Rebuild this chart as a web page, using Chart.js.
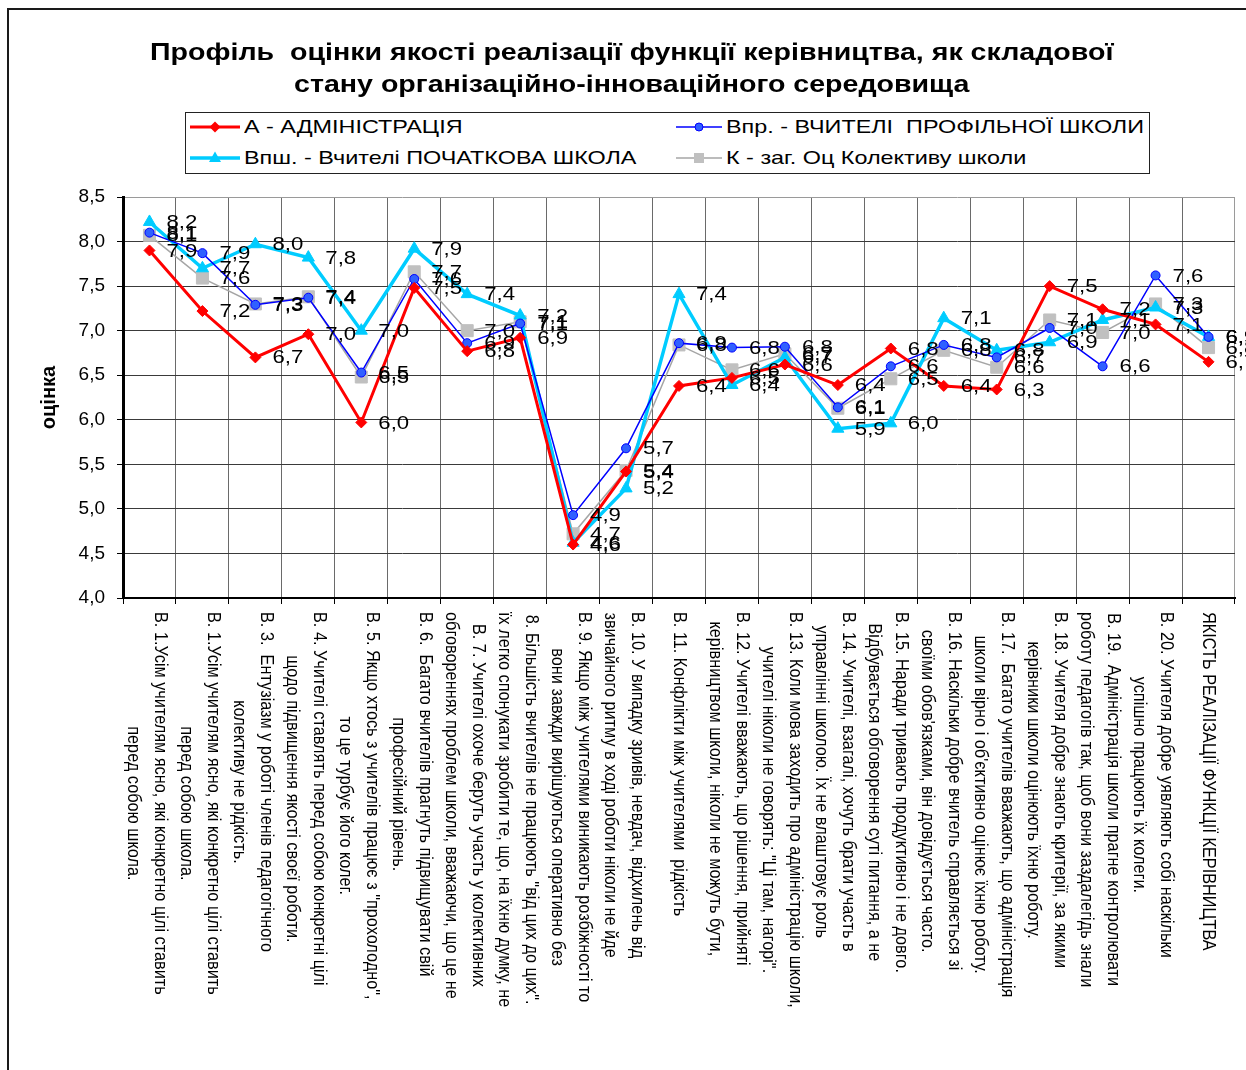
<!DOCTYPE html>
<html lang="uk">
<head>
<meta charset="utf-8">
<title>Профіль оцінки якості реалізації функції керівництва</title>
<script src="https://cdn.jsdelivr.net/npm/chart.js@4.4.1/dist/chart.umd.min.js"></script>
<style>
  html, body { margin: 0; padding: 0; background: #fff; }
  body { width: 1246px; height: 1070px; overflow: hidden; position: relative;
         font-family: "Liberation Sans", Arial, sans-serif; }
  .frame { position: absolute; left: 7px; top: 8px; width: 1300px; height: 1100px;
           border: 2px solid #1a1a1a; box-sizing: border-box; }
  #chart { position: absolute; left: 0; top: 0; }
  .title { position: absolute; left: 0; top: 36px; width: 1264px; text-align: center;
           font-weight: bold; font-size: 24px; line-height: 32px; color: #000; }
  .title span { display: inline-block; transform: scaleX(1.19); transform-origin: center; white-space: pre; }
  .legend { position: absolute; left: 185px; top: 112px; width: 965px; height: 62px;
            border: 1px solid #222; box-sizing: border-box; background: #fff; }
  .legend-item { position: absolute; display: flex; align-items: center; height: 20px;
                 font-size: 19px; color: #000; white-space: nowrap; }
  .legend-item svg { margin-right: 4px; flex: none; }
  .legend-item span { display: inline-block; transform: scaleX(1.23); transform-origin: left center; white-space: pre; }
</style>
</head>
<body>
<div class="frame"></div>
<canvas id="chart" width="1246" height="1070"></canvas>
<div class="title" id="title"></div>
<div class="legend" id="legend"></div>

<script>
// --- data -----------------------------------------------------------------
const titleLines = [
  'Профіль  оцінки якості реалізації функції керівництва, як складової',
  'стану організаційно-інноваційного середовища'
];

const categories = [
  ['В. 1.Усім учителям ясно, які конкретно цілі ставить', 'перед собою школа.'],
  ['В. 1.Усім учителям ясно, які конкретно цілі ставить', 'перед собою школа.'],
  ['В. 3.  Ентузіазм у роботі членів педагогічного', 'колективу не рідкість.'],
  ['В. 4. Учителі ставлять перед собою конкретні цілі', 'щодо підвищення якості своєї роботи.'],
  ['В. 5. Якщо хтось з учителів працює з "прохолодно",', 'то це турбує його колег.'],
  ['В. 6.  Багато вчителів прагнуть підвищувати свій', 'професійний рівень.'],
  ['В. 7. Учителі охоче беруть участь у колективних', 'обговореннях проблем школи, вважаючи, що це не'],
  ['8. Більшість вчителів не працюють "від цих до цих".', 'їх легко спонукати зробити те, що, на їхню думку, не'],
  ['В. 9. Якщо між учителями виникають розбіжності то', 'вони завжди вирішуються оперативно без'],
  ['В. 10. У випадку зривів, невдач, відхилень від', 'звичайного ритму в ході роботи ніколи не йде'],
  ['В. 11. Конфлікти між учителями  рідкість'],
  ['В. 12. Учителі вважають, що рішення, прийняті', 'керівництвом школи, ніколи не можуть бути,'],
  ['В. 13. Коли мова заходить про адміністрацію школи,', 'учителі ніколи не говорять: "Ці там, нагорі".'],
  ['В. 14. Учителі, взагалі, хочуть брати участь в', 'управлінні школою. Їх не влаштовує роль'],
  ['В. 15. Наради тривають продуктивно і не довго.', 'Відбувається обговорення суті питання, а не'],
  ['В. 16. Наскільки добре вчитель справляється зі', 'своїми обов\'язками, він довідується часто.'],
  ['В. 17.  Багато учителів вважають, що адміністрація', 'школи вірно і об\'єктивно оцінює їхню роботу.'],
  ['В. 18. Учителя добре знають критерії, за якими', 'керівники школи оцінюють їхню роботу.'],
  ['В. 19.  Адміністрація школи прагне контролювати', 'роботу педагогів так, щоб вони заздалегідь знали'],
  ['В. 20. Учителя добре уявляють собі наскільки', 'успішно працюють їх колеги.'],
  ['ЯКІСТЬ РЕАЛІЗАЦІЇ ФУНКЦІЇ КЕРІВНИЦТВА']
];

const seriesNames = [
  'А - АДМІНІСТРАЦІЯ',
  'Впр. - ВЧИТЕЛІ  ПРОФІЛЬНОЇ ШКОЛИ',
  'Впш. - Вчителі ПОЧАТКОВА ШКОЛА',
  'К - заг. Оц Колективу школи'
];

const valuesA    = [7.9, 7.22, 6.7, 6.96, 5.97, 7.48, 6.77, 6.92, 4.6, 5.42, 6.38,
                    6.47, 6.62, 6.39, 6.8, 6.38, 6.34, 7.5, 7.24, 7.07, 6.65];
const valuesVpr  = [8.1, 7.87, 7.29, 7.37, 6.53, 7.58, 6.86, 7.08, 4.93, 5.68, 6.86,
                    6.81, 6.82, 6.14, 6.6, 6.84, 6.7, 7.03, 6.6, 7.62, 6.93];
const valuesVpsh = [8.22, 7.7, 7.97, 7.82, 7.0, 7.92, 7.41, 7.17, 4.62, 5.23, 7.41,
                    6.39, 6.7, 5.9, 5.96, 7.14, 6.78, 6.87, 7.12, 7.26, 6.93];
const valuesK    = [8.07, 7.59, 7.3, 7.38, 6.48, 7.66, 7.0, 7.1, 4.72, 5.43, 6.84,
                    6.56, 6.74, 6.13, 6.46, 6.78, 6.59, 7.12, 6.98, 7.3, 6.81];

const yMin = 4, yMax = 8.5, yStep = 0.5;
const yTitle = 'оцінка';

// --- styles ---------------------------------------------------------------
const FONT = '"Liberation Sans", Arial, sans-serif';
const seriesStyle = [
  { color: '#ff0000', fill: '#ff0000', width: 3,   shape: 'rectRot',  r: 5.5, icon: 50 },
  { color: '#0000ff', fill: '#3060ff', width: 1.5, shape: 'circle',   r: 4.5, icon: 46 },
  { color: '#00ccff', fill: '#00ccff', width: 3.5, shape: 'triangle', r: 7,   icon: 50 },
  { color: '#a6a6a6', fill: '#c0c0c0', width: 1.5, shape: 'rect',     r: 8.5, icon: 46 }
];
const seriesValues = [valuesA, valuesVpr, valuesVpsh, valuesK];

const fmt = v => Number(v).toFixed(1).replace('.', ',');

// числа біля точок (трохи розтягнуті по горизонталі, як в оригіналі)
const dataLabels = {
  id: 'dataLabels',
  afterDatasetsDraw(chart) {
    const { ctx } = chart;
    ctx.save();
    ctx.font = '18.5px ' + FONT;
    ctx.fillStyle = '#000';
    ctx.textAlign = 'left';
    ctx.textBaseline = 'middle';
    chart.data.datasets.forEach((ds, i) => {
      chart.getDatasetMeta(i).data.forEach((pt, j) => {
        ctx.save();
        ctx.translate(pt.x + 17, pt.y + 1);
        ctx.scale(1.2, 1);
        ctx.fillText(fmt(ds.data[j]), 0, 0);
        ctx.restore();
      });
    });
    ctx.restore();
  }
};

// підписи категорій, повернуті за годинниковою стрілкою
const xLabels = {
  id: 'xLabels',
  afterDraw(chart) {
    const { ctx } = chart;
    const x = chart.scales.x;
    ctx.save();
    ctx.font = '16.3px ' + FONT;
    ctx.fillStyle = '#000';
    ctx.textAlign = 'center';
    ctx.textBaseline = 'middle';
    categories.forEach((lines, i) => {
      const cx = x.getPixelForTick(i);
      const block = Math.max(...lines.map(l => ctx.measureText(l).width));
      const n = lines.length;
      lines.forEach((line, k) => {
        const px = cx + ((n - 1) / 2 - k) * 27 - (n > 1 ? 3 : 0);
        ctx.save();
        ctx.translate(px, x.top + 14);
        ctx.rotate(Math.PI / 2);
        ctx.scale(1, 1.12);
        ctx.fillText(line, block / 2, 0);
        ctx.restore();
      });
    });
    ctx.restore();
  }
};

new Chart(document.getElementById('chart'), {
  type: 'line',
  data: {
    labels: categories,
    datasets: seriesValues.map((vals, i) => ({
      label: seriesNames[i],
      data: vals,
      borderColor: seriesStyle[i].color,
      backgroundColor: seriesStyle[i].fill,
      borderWidth: seriesStyle[i].width,
      pointStyle: seriesStyle[i].shape,
      pointRadius: seriesStyle[i].r,
      pointBackgroundColor: seriesStyle[i].fill,
      pointBorderColor: i === 1 ? '#0000ff' : seriesStyle[i].fill,
      pointBorderWidth: 1,
      tension: 0,
      fill: false
    }))
  },
  options: {
    responsive: false,
    animation: false,
    events: [],
    layout: { padding: { left: 30, right: 11, top: 197, bottom: 0 } },
    plugins: {
      legend: { display: false },
      tooltip: { enabled: false },
      title: { display: false }
    },
    scales: {
      x: {
        offset: true,
        grid: {
          offset: true,
          color: c => c.type === 'scale' ? '#9a9a9a' : '#6a6a6a',
          lineWidth: 1,
          tickLength: 6,
          tickColor: '#000'
        },
        border: { color: '#000', width: 2 },
        ticks: { display: false },
        afterFit: s => { s.height = 472; }
      },
      y: {
        min: yMin,
        max: yMax,
        ticks: {
          stepSize: yStep,
          callback: v => fmt(v),
          color: '#000',
          font: { family: FONT, size: 19 },
          padding: 12
        },
        grid: {
          color: c => c.tick && c.tick.value === yMax ? '#9a9a9a' : '#3a3a3a',
          lineWidth: 1,
          tickLength: 6,
          tickColor: '#000'
        },
        border: { color: '#000', width: 3 },
        title: {
          display: true,
          text: yTitle,
          color: '#000',
          font: { family: FONT, size: 20, weight: 'bold' },
          padding: { top: 7, bottom: 0 }
        },
        afterFit: s => { s.width = 93; }
      }
    }
  },
  plugins: [dataLabels, xLabels]
});

// заголовок
const titleEl = document.getElementById('title');
titleLines.forEach(t => {
  const line = document.createElement('div');
  line.innerHTML = '<span></span>';
  line.firstChild.textContent = t;
  titleEl.appendChild(line);
});

// легенда у рамці, дві колонки
function legendIcon(st) {
  const w = st.icon, c = w / 2;
  let mark = '';
  if (st.shape === 'rectRot')  mark = `<polygon points="${c},1.5 ${c + 5.5},7 ${c},12.5 ${c - 5.5},7" fill="${st.fill}"/>`;
  if (st.shape === 'circle')   mark = `<circle cx="${c}" cy="7" r="4" fill="${st.fill}" stroke="${st.color}"/>`;
  if (st.shape === 'triangle') mark = `<polygon points="${c},0.5 ${c + 6},11 ${c - 6},11" fill="${st.fill}"/>`;
  if (st.shape === 'rect')     mark = `<rect x="${c - 5}" y="2" width="10" height="10" fill="${st.fill}"/>`;
  return `<svg width="${w}" height="14" viewBox="0 0 ${w} 14"><line x1="0" y1="7" x2="${w}" y2="7" stroke="${st.color}" stroke-width="${st.width}"/>${mark}</svg>`;
}
const legendEl = document.getElementById('legend');
seriesNames.forEach((name, i) => {
  const item = document.createElement('div');
  item.className = 'legend-item';
  item.style.left = (i % 2 === 0 ? 4 : 490) + 'px';
  item.style.top = (Math.floor(i / 2) === 0 ? 4 : 35) + 'px';
  item.innerHTML = legendIcon(seriesStyle[i]) + '<span></span>';
  item.lastChild.textContent = name;
  legendEl.appendChild(item);
});
</script>
</body>
</html>
